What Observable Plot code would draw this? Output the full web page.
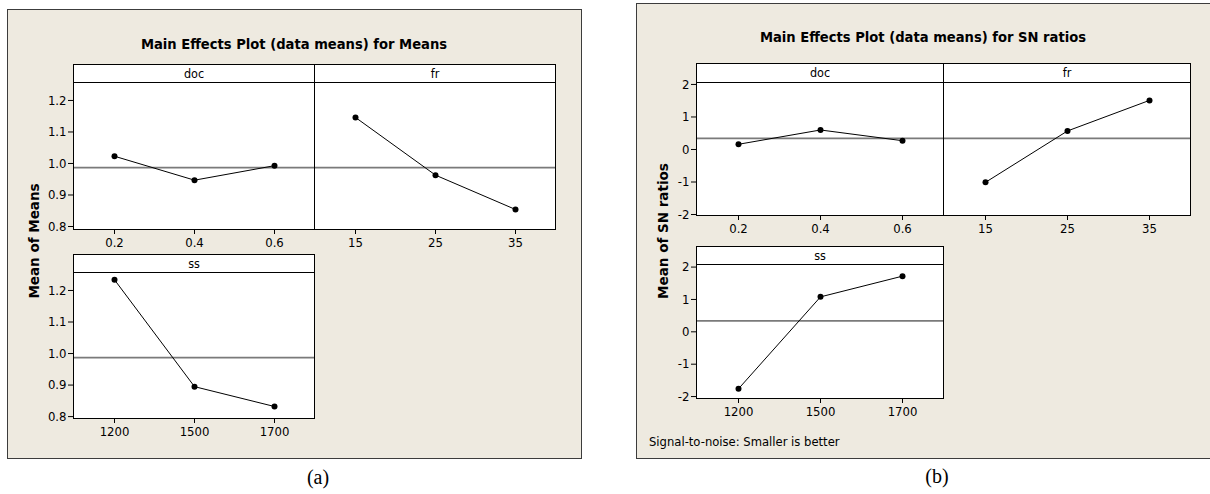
<!DOCTYPE html>
<html><head><meta charset="utf-8">
<script src="https://cdn.jsdelivr.net/npm/d3@7"></script>
<script src="https://cdn.jsdelivr.net/npm/@observablehq/plot@0.6"></script>
<style>
html,body{margin:0;padding:0;background:#fff;}
#page{position:relative;width:1210px;height:494px;overflow:hidden;font-family:"DejaVu Sans Condensed","DejaVu Sans",sans-serif;font-stretch:condensed;color:#000;}
.box{position:absolute;background:#eeeae0;border:1px solid #3c3c3c;box-sizing:border-box;}
.title{position:absolute;transform:translate(-50%,-50%);white-space:nowrap;font-weight:bold;font-size:14.6px;}
.strip{position:absolute;box-sizing:border-box;background:#fff;border:1px solid #000;font-size:12.5px;text-align:center;}
.ylab{position:absolute;transform:translate(-50%,-50%) rotate(-90deg);white-space:nowrap;font-family:"DejaVu Sans",sans-serif;font-stretch:normal;font-weight:bold;font-size:13.5px;}
.cap{position:absolute;transform:translateY(-50%);white-space:nowrap;font-size:12.9px;}
.sub{position:absolute;transform:translate(-50%,-50%);font-family:"Liberation Serif","Times New Roman",serif;font-stretch:normal;font-size:20px;}
.facet{position:absolute;}
</style>
</head><body><div id="page"></div>
<script>
// ---- data ----
const docLevels = [0.2, 0.4, 0.6];
const frLevels = [15, 25, 35];
const ssLevels = [1200, 1500, 1700];

const meansDoc = [1.023, 0.947, 0.993];
const meansFr  = [1.146, 0.963, 0.854];
const meansSs  = [1.234, 0.895, 0.832];
const meansGrand = 0.987;
const meansTicks = [0.8, 0.9, 1.0, 1.1, 1.2];

const snDoc = [0.16, 0.60, 0.27];
const snFr  = [-1.01, 0.57, 1.51];
const snSs  = [-1.76, 1.08, 1.72];
const snGrand = 0.34;
const snTicks = [-2, -1, 0, 1, 2];

const factorNames = ["doc", "fr", "ss"];
const titleA = "Main Effects Plot (data means) for Means";
const titleB = "Main Effects Plot (data means) for SN ratios";
const ylabA = "Mean of Means";
const ylabB = "Mean of SN ratios";
const captionB = "Signal-to-noise: Smaller is better";

// ---- layout ----
const page = document.getElementById("page");
const FONT = '"DejaVu Sans Condensed","DejaVu Sans",sans-serif';

function el(cls, css, text) {
  const d = document.createElement("div");
  d.className = cls;
  Object.assign(d.style, css);
  if (text != null) d.textContent = text;
  page.appendChild(d);
  return d;
}

function facet(cfg) {
  const {x0, w, stripTop, plotTop, plotBottom, label, levels, values, grand, yDomain, yTicks, fmtY, showY} = cfg;
  const h = plotBottom - plotTop;
  const ml = showY ? 40 : 0, mr = 1, mt = 1, mb = 30;
  const data = levels.map((l, i) => ({level: l, value: values[i]}));
  const svg = Plot.plot({
    width: w + ml + mr, height: h + mt + mb,
    marginLeft: ml, marginRight: mr, marginTop: mt, marginBottom: mb,
    style: {background: "transparent", fontFamily: FONT, fontSize: "13px", fontStretch: "condensed", color: "#000", overflow: "visible"},
    x: {type: "point", domain: levels, padding: 0.5, tickFormat: String, label: null, tickSize: 5, tickPadding: 3},
    y: {domain: yDomain, ticks: yTicks, tickFormat: fmtY, label: null, tickSize: 5, tickPadding: 2, axis: showY ? "left" : null},
    marks: [
      Plot.frame({fill: "white", stroke: null}),
      Plot.ruleY([grand], {stroke: "#7a7a7a", strokeWidth: 1.8}),
      Plot.line(data, {x: "level", y: "value", stroke: "#000", strokeWidth: 1}),
      Plot.dot(data, {x: "level", y: "value", fill: "#000", stroke: null, r: 3}),
      Plot.frame({stroke: "#000", strokeWidth: 1})
    ]
  });
  const wrap = document.createElement("div");
  wrap.className = "facet";
  wrap.style.left = (x0 - ml) + "px";
  wrap.style.top = (plotTop - mt) + "px";
  wrap.appendChild(svg);
  page.appendChild(wrap);
  el("strip", {left: x0 + "px", top: stripTop + "px", width: (w + 1) + "px", height: (plotTop - stripTop + 1) + "px", lineHeight: (plotTop - stripTop - 1) + "px"}, label);
}

// ---- panel (a) ----
el("box", {left: "7px", top: "9px", width: "575px", height: "450px"});
el("title", {left: "294px", top: "43px"}, titleA);
el("ylab", {left: "34px", top: "241px"}, ylabA);
const fmt1 = d3.format(".1f");
const domA = [0.7905, 1.257];
facet({x0: 73, w: 241, stripTop: 64, plotTop: 82, plotBottom: 229, label: factorNames[0], levels: docLevels, values: meansDoc, grand: meansGrand, yDomain: domA, yTicks: meansTicks, fmtY: fmt1, showY: true});
facet({x0: 314, w: 241, stripTop: 64, plotTop: 82, plotBottom: 229, label: factorNames[1], levels: frLevels, values: meansFr, grand: meansGrand, yDomain: domA, yTicks: meansTicks, fmtY: fmt1, showY: false});
facet({x0: 73, w: 241, stripTop: 254, plotTop: 272, plotBottom: 418, label: factorNames[2], levels: ssLevels, values: meansSs, grand: meansGrand, yDomain: [0.794, 1.257], yTicks: meansTicks, fmtY: fmt1, showY: true});
el("sub", {left: "318px", top: "477px"}, "(a)");

// ---- panel (b) ----
el("box", {left: "636px", top: "3px", width: "600px", height: "456px"});
el("title", {left: "923px", top: "36px"}, titleB);
el("ylab", {left: "663px", top: "231px"}, ylabB);
const fmtI = d => String(d);
facet({x0: 696, w: 247, stripTop: 63, plotTop: 82, plotBottom: 215, label: factorNames[0], levels: docLevels, values: snDoc, grand: snGrand, yDomain: [-2.03, 2.06], yTicks: snTicks, fmtY: fmtI, showY: true});
facet({x0: 943, w: 247, stripTop: 63, plotTop: 82, plotBottom: 215, label: factorNames[1], levels: frLevels, values: snFr, grand: snGrand, yDomain: [-2.03, 2.06], yTicks: snTicks, fmtY: fmtI, showY: false});
facet({x0: 696, w: 247, stripTop: 246, plotTop: 264, plotBottom: 398, label: factorNames[2], levels: ssLevels, values: snSs, grand: snGrand, yDomain: [-2.06, 2.08], yTicks: snTicks, fmtY: fmtI, showY: true});
el("cap", {left: "649px", top: "441px"}, captionB);
el("sub", {left: "937px", top: "476px"}, "(b)");
</script>
</body></html>
